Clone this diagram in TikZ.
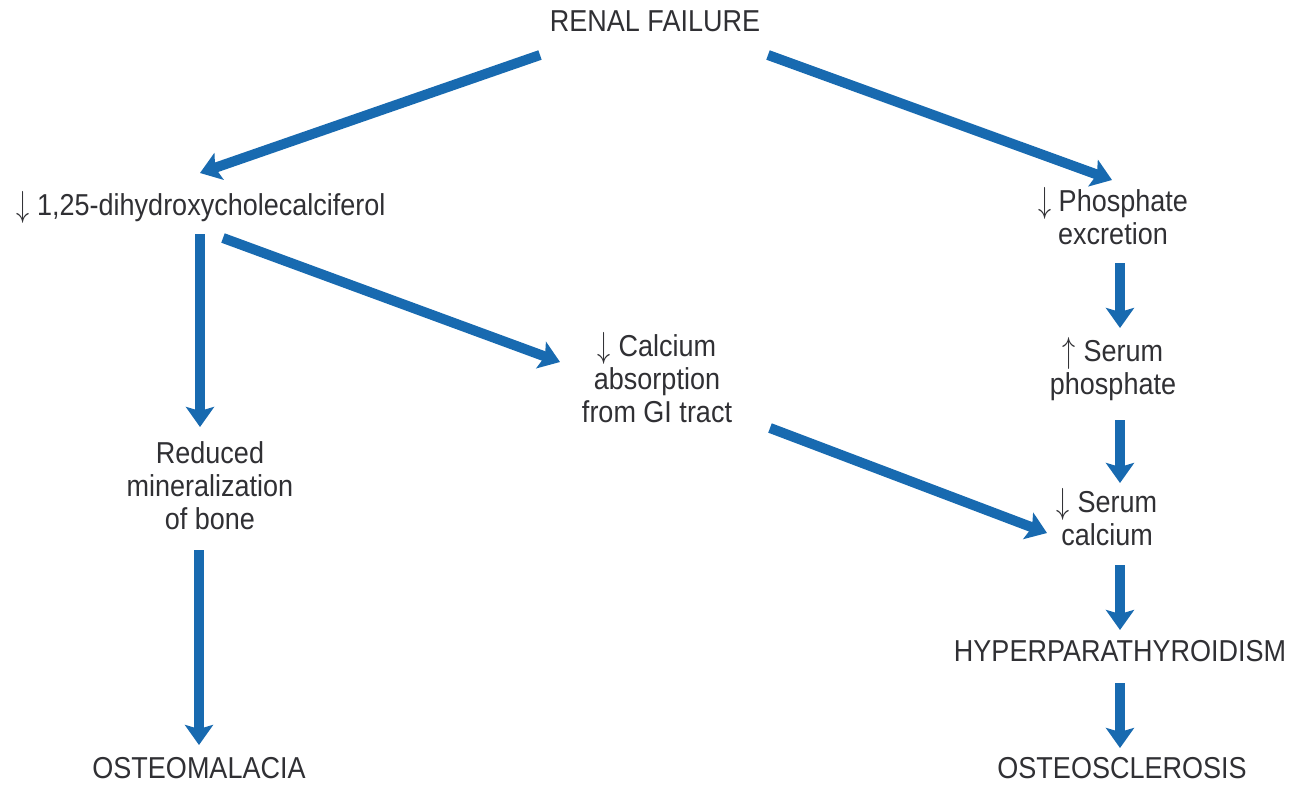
\documentclass[tikz,border=0pt]{standalone}
\usepackage{fontspec}
\setmainfont{Liberation Sans}
\usepackage{graphicx}
\usetikzlibrary{arrows.meta,calc}
\definecolor{arrblue}{RGB}{24,106,176}
\definecolor{txtgray}{RGB}{48,48,52}
\newcommand\tx[1]{\scalebox{1}[1.12]{\begin{tabular}{@{}c@{}}#1\end{tabular}}}
\newcommand\dn{\raisebox{-1pt}{\scalebox{1.05}[1.3]{$\downarrow$}}}
\newcommand\up{\raisebox{-1pt}{\scalebox{1.05}[1.3]{$\uparrow$}}}
\begin{document}
\begin{tikzpicture}[x=1pt,y=1pt,
  lbl/.style={inner sep=0pt,text=txtgray,font=\fontsize{27}{29.5}\selectfont},
  arr/.style={draw=arrblue,line width=10pt,-{Stealth[length=20pt,width=28pt,inset=4pt]}}]
\useasboundingbox (0,0) rectangle (1309,-785);
\fill[white] (0,0) rectangle (1309,-785);
\node[lbl] (rf)   at (655,-25)  {\tx{RENAL FAILURE}};
\node[lbl] (dhc)  at (201,-208) {\tx{\dn\ 1,25-dihydroxycholecalciferol}};
\node[lbl] (phos) at (1113,-221) {\tx{\dn\ Phosphate\\excretion}};
\node[lbl] (cal)  at (657,-382) {\tx{\dn\ Calcium\\absorption\\from GI tract}};
\node[lbl] (ser)  at (1113,-371) {\tx{\up\ Serum\\phosphate}};
\node[lbl] (red)  at (210,-490) {\tx{Reduced\\mineralization\\of bone}};
\node[lbl] (sc)   at (1107,-522) {\tx{\dn\ Serum\\calcium}};
\node[lbl] (hyp)  at (1120,-655) {\tx{HYPERPARATHYROIDISM}};
\node[lbl] (ost)  at (199,-772) {\tx{OSTEOMALACIA}};
\node[lbl] (osc)  at (1122,-772) {\tx{OSTEOSCLEROSIS}};
\draw[arr] ($(rf)+(-115,-30)$) -- ($(dhc)+(-1,35)$);
\draw[arr] ($(rf)+(113,-30)$) -- ($(phos)+(-1,41)$);
\draw[arr] ($(dhc)+(-1,-26)$) -- ($(red)+(-10,63)$);
\draw[arr] ($(dhc)+(22,-30)$) -- ($(cal)+(-97,20)$);
\draw[arr] ($(phos)+(7,-42)$) -- ($(ser)+(7,43)$);
\draw[arr] ($(ser)+(7,-49)$) -- ($(sc)+(13,39)$);
\draw[arr] ($(cal)+(113,-46)$) -- ($(sc)+(-60,-11)$);
\draw[arr] ($(sc)+(13,-43)$) -- ($(hyp)+(0,25)$);
\draw[arr] ($(red)+(-11,-60)$) -- ($(ost)+(0,27)$);
\draw[arr] ($(hyp)+(0,-28)$) -- ($(osc)+(-2,24)$);
\end{tikzpicture}
\end{document}
